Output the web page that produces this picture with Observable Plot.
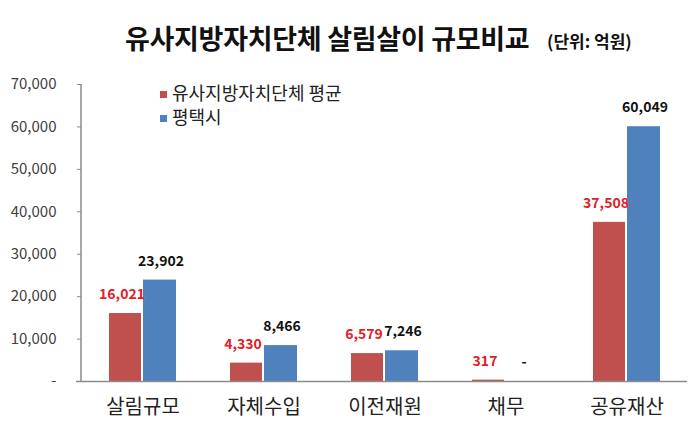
<!DOCTYPE html>
<html><head><meta charset="utf-8">
<script src="https://cdn.jsdelivr.net/npm/d3@7"></script>
<script src="https://cdn.jsdelivr.net/npm/@observablehq/plot@0.6"></script>
<style>
body{margin:0;background:#fff;font-family:"Noto Sans CJK KR","Noto Sans",sans-serif;}
#wrap{position:relative;width:699px;height:433px;overflow:hidden;background:#fff}
#head{position:relative;height:70px}
#t1{position:absolute;left:125px;top:21px;font-size:27px;line-height:34px;font-weight:bold;color:#111;white-space:nowrap;letter-spacing:-0.3px}
#t2{position:absolute;left:547px;top:30px;font-size:17px;line-height:22px;font-weight:bold;color:#111;white-space:nowrap}
.leg{position:absolute;left:160px;font-size:18px;line-height:22px;color:#222;white-space:nowrap}
.leg span{display:inline-block;width:7px;height:7px;margin-right:5px;vertical-align:middle;position:relative;top:-1px}
#chart svg{display:block}
</style></head>
<body>
<div id="wrap">
  <div id="head"><div id="t1"></div><div id="t2"></div></div>
  <div id="chart"></div>
  <div id="legend"></div>
</div>
<script>
const titleText = "유사지방자치단체 살림살이 규모비교";
const unitText = "(단위: 억원)";
const categories = ["살림규모", "자체수입", "이전재원", "채무", "공유재산"];
const seriesNames = ["유사지방자치단체 평균", "평택시"];
const avgValues = [16021, 4330, 6579, 317, 37508];
const ptValues = [23902, 8466, 7246, 0, 60049];
const yTicks = [0, 10000, 20000, 30000, 40000, 50000, 60000, 70000];
const barColors = ["#c0504d", "#4f81bd"];
const labelColors = ["#e0202a", "#111111"];

document.getElementById("t1").textContent = titleText;
document.getElementById("t2").textContent = unitText;

const fmt = v => v === 0 ? "-" : d3.format(",")(v);
const avgRows = categories.map((c, i) => ({category: c, series: seriesNames[0], value: avgValues[i]}));
const ptRows = categories.map((c, i) => ({category: c, series: seriesNames[1], value: ptValues[i]}));

const marginLeft = 81;
const axisLine = (index, scales, values, dims) => {
  const ns = "http://www.w3.org/2000/svg";
  const l = document.createElementNS(ns, "line");
  l.setAttribute("x1", dims.marginLeft);
  l.setAttribute("x2", dims.marginLeft);
  l.setAttribute("y1", scales.y(yTicks[0]));
  l.setAttribute("y2", scales.y(yTicks[yTicks.length - 1]));
  l.setAttribute("stroke", "#8c8c8c");
  l.setAttribute("stroke-width", 1.5);
  return l;
};

const chart = Plot.plot({
  width: 699,
  height: 363,
  marginTop: 14,
  marginBottom: 52,
  marginLeft,
  marginRight: 12,
  style: {fontFamily: '"Noto Sans CJK KR","Noto Sans",sans-serif', background: "#fff", color: "#333"},
  x: {domain: categories, padding: 0, label: null},
  y: {domain: [0, 70000], label: null},
  marks: [
    Plot.barY(avgRows, {x: "category", y: "value", fill: barColors[0], insetLeft: 27, insetRight: 62}),
    Plot.barY(ptRows, {x: "category", y: "value", fill: barColors[1], insetLeft: 61, insetRight: 27}),
    Plot.ruleY([0], {stroke: "#8c8c8c", strokeWidth: 1.5, insetLeft: -5}),
    axisLine,
    Plot.axisY({ticks: yTicks, tickFormat: fmt, tickSize: 4, tickPadding: 21, fontSize: 15, stroke: "#8c8c8c", fill: "#404040", label: null}),
    Plot.axisX({tickSize: 0, tickPadding: 18, fontSize: 20, fill: "#222", label: null}),
    Plot.text(avgRows, {x: "category", y: "value", text: d => fmt(d.value), dx: -21, dy: -19, fill: labelColors[0], fontWeight: "bold", fontSize: 14}),
    Plot.text(ptRows, {x: "category", y: "value", text: d => fmt(d.value), dx: 18, dy: -19, fill: labelColors[1], fontWeight: "bold", fontSize: 14})
  ]
});
document.getElementById("chart").appendChild(chart);

const legend = document.getElementById("legend");
seriesNames.forEach((name, i) => {
  const row = document.createElement("div");
  row.className = "leg";
  row.style.top = (81 + i * 24) + "px";
  const sw = document.createElement("span");
  sw.style.background = barColors[i];
  row.appendChild(sw);
  row.appendChild(document.createTextNode(name));
  legend.appendChild(row);
});
</script>
</body></html>
